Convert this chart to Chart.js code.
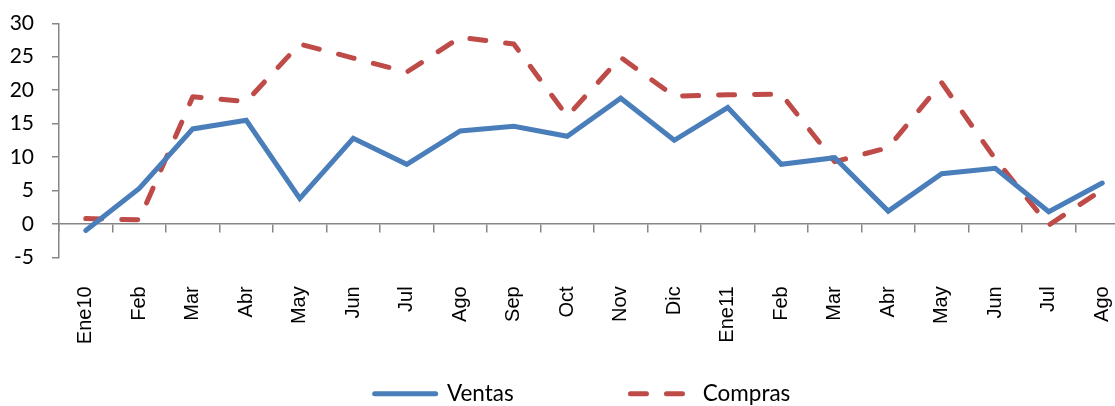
<!DOCTYPE html>
<html>
<head>
<meta charset="utf-8">
<script src="https://cdn.jsdelivr.net/npm/chart.js@4"></script>
<style>
  html, body { margin: 0; padding: 0; background: #fff; overflow: hidden; }
  #wrap { position: absolute; left: 0; top: 0; width: 1130px; height: 406px; }
</style>
</head>
<body>
<div id="wrap"><canvas id="lineChart"></canvas></div>
<script>
// months, Jan 2010 .. Aug 2011
const meses = ['Ene10', 'Feb', 'Mar', 'Abr', 'May', 'Jun', 'Jul', 'Ago', 'Sep', 'Oct',
               'Nov', 'Dic', 'Ene11', 'Feb', 'Mar', 'Abr', 'May', 'Jun', 'Jul', 'Ago'];
const ventas = [-1.0, 5.3, 14.2, 15.5, 3.8, 12.8, 8.9, 13.9, 14.6, 13.1,
                18.8, 12.5, 17.4, 8.9, 9.9, 1.9, 7.5, 8.3, 1.8, 6.1];
const compras = [0.8, 0.6, 19.0, 18.3, 26.9, 24.8, 22.7, 27.9, 26.9, 16.1,
                 24.9, 19.1, 19.3, 19.4, 9.3, 11.4, 21.1, 9.7, -0.2, 5.1];
const yTicks = [-5, 0, 5, 10, 15, 20, 25, 30];

let COLORS = {
    'Ventas' : '#4A7EBB',
    'Compras' : '#BE4B48',
    'axis' : '#868686'
}

// nudge the legend sideways, chart.js centres it on the whole canvas
const legendShift = {
    id: 'legendShift',
    afterLayout(chart) {
        chart.legend.left += 18;
        chart.legend.right += 18;
    }
};

let ctx = document.getElementById('lineChart').getContext('2d');

let lineData = {
    labels: meses,
    datasets: [
        {
            label: 'Ventas',
            data: ventas,
            borderColor: COLORS['Ventas'],
            backgroundColor: COLORS['Ventas'],
            borderWidth: 5,
            borderCapStyle: 'round',
            borderJoinStyle: 'miter',
            pointRadius: 0,
            tension: 0
        },
        {
            label: 'Compras',
            data: compras,
            borderColor: COLORS['Compras'],
            backgroundColor: COLORS['Compras'],
            borderWidth: 5,
            borderDash: [16, 20],
            borderCapStyle: 'round',
            borderJoinStyle: 'round',
            pointRadius: 0,
            tension: 0
        }
    ]
};

let lineOptions = {
    responsive: true,
    maintainAspectRatio: false,
    animation: false,
    layout: { padding: { top: 23.3, left: 0, right: 1, bottom: -9 } },
    scales: {
        // axis through zero, labels hang below the plot
        x: {
            type: 'category',
            position: { y: 0 },
            offset: true,
            grid: { drawOnChartArea: false, drawTicks: true, tickLength: 8, color: COLORS['axis'], lineWidth: 1.5, offset: true },
            border: { color: COLORS['axis'], width: 1.5 },
            ticks: {
                autoSkip: false,
                minRotation: 90,
                maxRotation: 90,
                padding: 54.5,
                color: '#000',
                font: { family: 'Liberation Sans', size: 20 }
            },
            afterFit: function (scale) { scale.paddingLeft = 0; scale.paddingRight = 0; }
        },
        // empty band between the plot and the legend
        gap: {
            type: 'category',
            axis: 'x',
            position: 'bottom',
            offset: true,
            grid: { display: false, drawTicks: false },
            border: { display: false },
            ticks: { display: false },
            afterFit: function (scale) { scale.height = 8.5; scale.paddingLeft = 0; scale.paddingRight = 0; }
        },
        y: {
            min: -5,
            max: 30,
            afterBuildTicks: function (scale) { scale.ticks = yTicks.map(v => ({ value: v })); },
            grid: { drawOnChartArea: false, drawTicks: true, tickLength: 7, color: COLORS['axis'], lineWidth: 1.5 },
            border: { color: COLORS['axis'], width: 1.5 },
            ticks: {
                padding: 18,
                color: '#000',
                font: { family: 'Lato', size: 21 }
            },
            afterFit: function (scale) { scale.width = 59; scale.paddingTop = 0; scale.paddingBottom = 0; }
        }
    },
    plugins: {
        legend: {
            position: 'bottom',
            labels: {
                usePointStyle: true,
                pointStyle: 'line',
                pointStyleWidth: 61,
                padding: 116.75,
                color: '#000',
                font: { family: 'Lato', size: 22.5 },
                generateLabels: function (chart) {
                    let items = Chart.defaults.plugins.legend.labels.generateLabels(chart);
                    items.forEach(function (item) {
                        let ds = chart.data.datasets[item.datasetIndex];
                        item.strokeStyle = ds.borderColor;
                        item.lineWidth = ds.borderWidth;
                        item.lineDash = ds.borderDash || [];
                        item.lineCap = 'round';
                    });
                    return items;
                }
            }
        },
        tooltip: { enabled: false }
    }
};

let lineChart = new Chart(ctx, {
    type: 'line',
    data: lineData,
    options: lineOptions,
    plugins: [legendShift]
});
</script>
</body>
</html>
